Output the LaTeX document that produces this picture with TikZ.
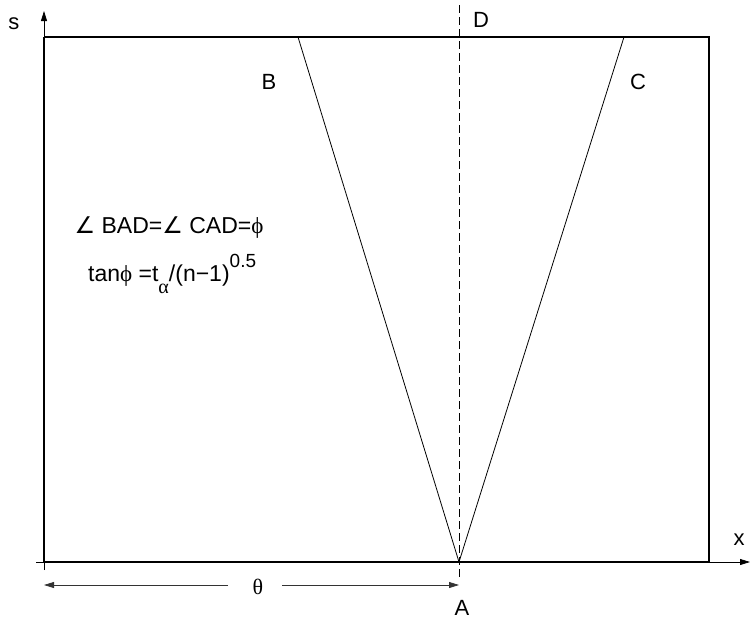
\documentclass[tikz,border=0pt]{standalone}
\usepackage{fontspec}
\setmainfont{Liberation Sans}
\newfontfamily\grk{Liberation Serif}
\newfontfamily\symf{DejaVu Sans}
\usetikzlibrary{arrows.meta}

\begin{document}
\begin{tikzpicture}[x=1pt,y=-1pt,
  lbl/.style={inner sep=0pt,font=\fontsize{22}{26}\selectfont},
  axis/.style={line width=0.8pt,-{Triangle[length=10pt,width=6pt]}},
  frame/.style={line width=1.8pt},
  ray/.style={line width=0.8pt},
  dim/.style={line width=0.8pt,black!80,-{Triangle[length=10pt,width=6pt]}},
  >=Triangle]
\useasboundingbox (0,0) rectangle (750,619);

% --- corner points of the region ---
\coordinate (O)  at (44,562);
\coordinate (TL) at (44,37);
\coordinate (TR) at (709,37);
\coordinate (BR) at (709,562);
\coordinate (A)  at (459,562);
\coordinate (B)  at (298,37);
\coordinate (C)  at (624,37);
\coordinate (Dt) at (459,5);
\coordinate (Db) at (459,580);

% --- frame and axes ---
\draw[line width=1.1pt] (TL) -- (TR) -- (BR);
\draw[frame] (TL) -- (O) -- (BR);
\coordinate (stail) at (44,570);
\coordinate (stip) at (44,11);
\coordinate (xtail) at (36,562);
\coordinate (xtip) at (750,562);
\draw[axis] (stail) -- (stip);
\draw[axis] (xtail) -- (xtip);
\node[lbl] (s) at (14,24) {s};
\node[lbl] (xl) at (739,540) {x};

% --- the wedge from A ---
\draw[ray] (A) -- (B);
\draw[ray] (A) -- (C);
\draw[line width=0.8pt,dash pattern=on 8pt off 4pt] (Dt) -- (Db);

% --- point labels ---
\node[lbl] (lB) at (269,82) {B};
\node[lbl] (lC) at (638,82) {C};
\node[lbl] (lD) at (481,20) {D};
\node[lbl] (lA) at (462,608) {A};

% --- theta span ---
\node[lbl] (theta) at (258,587) {\grk θ};
\coordinate (thLs) at (228,585);
\coordinate (thL) at (44,585);
\coordinate (thRs) at (282,585);
\coordinate (thR) at (459,585);
\draw[dim] (thLs) -- (thL);
\draw[dim] (thRs) -- (thR);

% --- relations ---
\node[lbl,font=\fontsize{23}{26}\selectfont] (ang) at (169,228) {{\symf ∠} BAD={\symf ∠} CAD={\grk ϕ}};
\node[lbl,anchor=base west,font=\fontsize{23}{26}\selectfont] (tanr) at (88,281)
  {tan{\grk ϕ} =t\raisebox{-1.0ex}{\fontsize{20}{20}\selectfont\grk α}/(n−1)\raisebox{1.1ex}{\fontsize{19}{19}\selectfont 0.5}};
\end{tikzpicture}
\end{document}
